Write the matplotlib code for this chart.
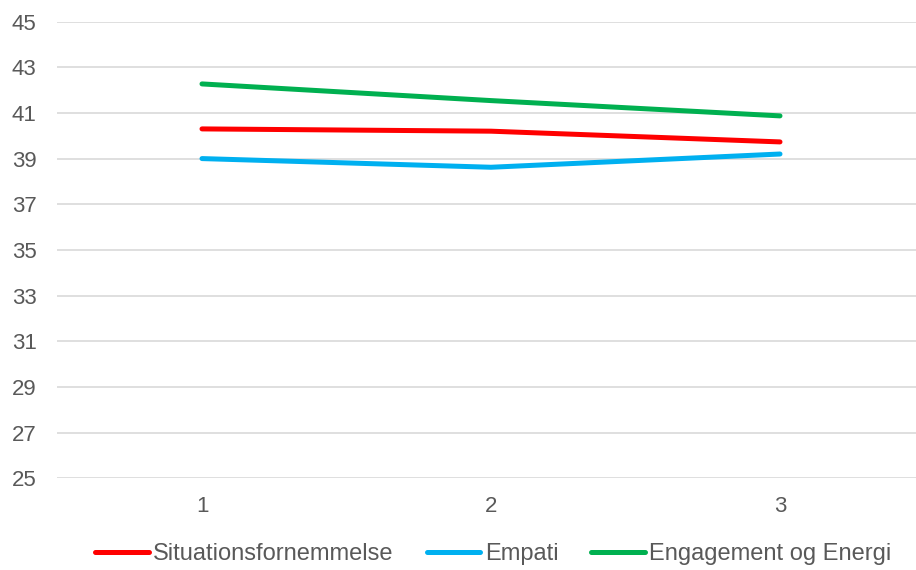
import matplotlib
matplotlib.use("Agg")
import matplotlib.pyplot as plt

plt.rcParams['font.family'] = ['Liberation Sans', 'DejaVu Sans']

# measurement rounds
rounds = [1, 2, 3]
situation = [40.3, 40.2, 39.73]
empati = [39.0, 38.62, 39.2]
engagement = [42.27, 41.54, 40.87]

yticks = list(range(25, 46, 2))

fig = plt.figure(figsize=(9.16, 5.70), dpi=100)
ax = fig.add_axes([57.5 / 916, 1 - 478.2 / 570, 867 / 916, (478.2 - 21.6) / 570])

ax.plot(rounds, situation, color="#FF0000", lw=3.6, solid_capstyle="round", label="Situationsfornemmelse")
ax.plot(rounds, empati, color="#00B0F0", lw=3.6, solid_capstyle="round", label="Empati")
ax.plot(rounds, engagement, color="#00B050", lw=3.6, solid_capstyle="round", label="Engagement og Energi")

ax.set_xlim(0.5, 3.5)
ax.set_ylim(25, 45)
ax.set_yticks(yticks)
ax.set_xticks(rounds)
ax.yaxis.grid(True, color="#D9D9D9", lw=1.2)
ax.set_axisbelow(True)
for s in ax.spines.values():
    s.set_visible(False)
ax.tick_params(length=0, labelsize=16, labelcolor="#595959")
ax.tick_params(axis="x", pad=13)
ax.tick_params(axis="y", pad=15)

leg = fig.legend(loc="center", bbox_to_anchor=(493.5 / 916, 1 - 554 / 570), ncol=3, frameon=False,
                 fontsize=17, handlelength=2.25, handletextpad=0.2, columnspacing=1.4)
for t in leg.get_texts():
    t.set_color("#595959")

fig.savefig("out.png", dpi=100)
